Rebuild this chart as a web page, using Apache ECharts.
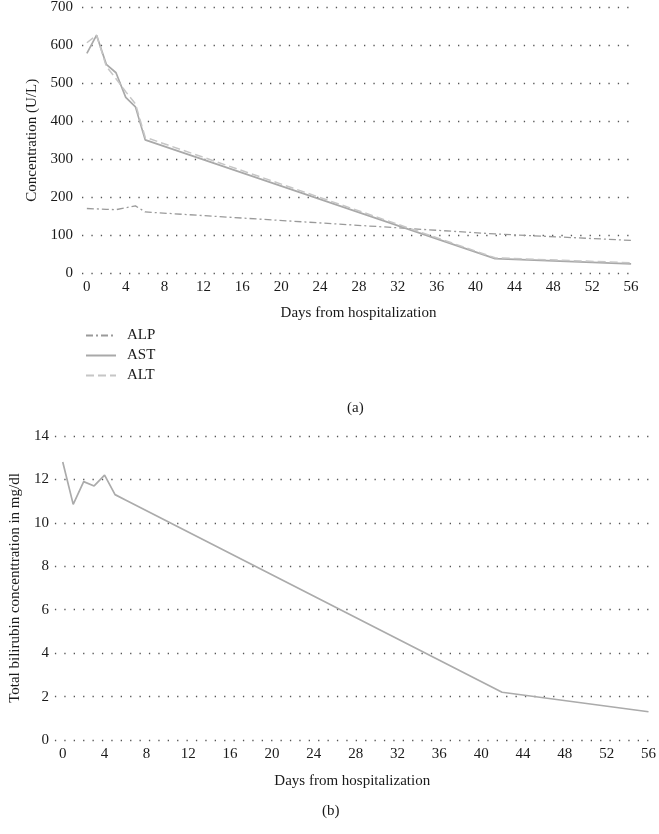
<!DOCTYPE html>
<html>
<head>
<meta charset="utf-8">
<script src="https://cdn.jsdelivr.net/npm/echarts@6/dist/echarts.min.js"></script>
<style>
html,body{margin:0;padding:0;background:#fff;}
#c{width:659px;height:834px;}
</style>
</head>
<body>
<div id="c"></div>
<script>
// Panel (a): liver enzymes
const daysA = [0, 1, 2, 3, 4, 5, 6, 42, 56];
const alp = [170, 169, 168, 167, 172, 177, 161, 103, 86];
const ast = [579, 627, 550, 528, 463, 438, 351, 38, 24];
const alt = [607, 627, 545, 512, 478, 446, 358, 40, 27];
// Panel (b): total bilirubin
const daysB = [0, 1, 2, 3, 4, 5, 6, 42, 56];
const bili = [12.8, 10.85, 11.9, 11.7, 12.2, 11.3, 11.05, 2.2, 1.3];
// tick labels
const xTicks = [0, 4, 8, 12, 16, 20, 24, 28, 32, 36, 40, 44, 48, 52, 56];
const yTicksA = [0, 100, 200, 300, 400, 500, 600, 700];
const yTicksB = [0, 2, 4, 6, 8, 10, 12, 14];

const FONT = 'Liberation Serif';
const TXT = '#1a1a1a';
const grid = {color: '#555', width: 1.3, type: [1.3, 8.1]};

function pairs(xs, ys) { return xs.map((x, i) => [x, ys[i]]); }

function xAxisDef(gridIndex, min, max, gap) {
  return {
    type: 'value', gridIndex, min, max,
    name: 'Days from hospitalization', nameLocation: 'middle', nameGap: gap,
    nameTextStyle: {fontFamily: FONT, fontSize: 15, color: TXT},
    axisLine: {show: false}, axisTick: {show: false},
    splitLine: {show: false},
    axisLabel: {customValues: xTicks, fontFamily: FONT, fontSize: 15, color: TXT, margin: 7}
  };
}

const chart = echarts.init(document.getElementById('c'), null, {renderer: 'canvas'});
chart.setOption({
  animation: false,
  backgroundColor: '#fff',
  grid: [
    {left: 82, right: 24, top: 6, height: 267, containLabel: false},
    {left: 47, right: 6, top: 436, height: 304, containLabel: false}
  ],
  xAxis: [
    xAxisDef(0, -0.5, 56.4, 33),
    xAxisDef(1, -0.75, 56.1, 34)
  ],
  yAxis: [
    {type: 'value', gridIndex: 0, min: 0, max: 700, interval: 100,
     name: 'Concentration (U/L)', nameLocation: 'middle', nameGap: 42,
     nameTextStyle: {fontFamily: FONT, fontSize: 15, color: TXT},
     axisLine: {show: false}, axisTick: {show: false},
     axisLabel: {customValues: yTicksA, fontFamily: FONT, fontSize: 15, color: TXT, margin: 9},
     splitLine: {show: true, lineStyle: grid}},
    {type: 'value', gridIndex: 1, min: 0, max: 14, interval: 2,
     name: 'Total bilirubin concenttration in mg/dl', nameLocation: 'middle', nameGap: 28,
     nameTextStyle: {fontFamily: FONT, fontSize: 15, color: TXT},
     axisLine: {show: false}, axisTick: {show: false},
     axisLabel: {customValues: yTicksB, fontFamily: FONT, fontSize: 15, color: TXT, margin: 6},
     splitLine: {show: true, lineStyle: grid}}
  ],
  legend: {
    orient: 'vertical', left: 80, top: 323,
    itemWidth: 30, itemHeight: 14, itemGap: 5,
    data: ['ALP', 'AST', 'ALT'],
    itemStyle: {opacity: 0},
    textStyle: {fontFamily: FONT, fontSize: 15, color: TXT, padding: [0, 0, 0, 6]}
  },
  graphic: [
    {type: 'text', left: 347, top: 401, style: {text: '(a)', font: '15px "Liberation Serif"', fill: TXT}},
    {type: 'text', left: 322, top: 804, style: {text: '(b)', font: '15px "Liberation Serif"', fill: TXT}}
  ],
  series: [
    {name: 'ALP', type: 'line', xAxisIndex: 0, yAxisIndex: 0, data: pairs(daysA, alp),
     symbol: 'none', lineStyle: {color: '#9a9a9a', width: 1.3, type: [7, 3, 2, 3]}, itemStyle: {color: '#9a9a9a'}},
    {name: 'AST', type: 'line', xAxisIndex: 0, yAxisIndex: 0, data: pairs(daysA, ast),
     symbol: 'none', lineStyle: {color: '#a9a9a9', width: 1.7, type: 'solid'}, itemStyle: {color: '#a9a9a9'}},
    {name: 'ALT', type: 'line', xAxisIndex: 0, yAxisIndex: 0, data: pairs(daysA, alt),
     symbol: 'none', lineStyle: {color: '#c6c6c6', width: 1.5, type: [8, 4]}, itemStyle: {color: '#c6c6c6'}},
    {name: 'Bilirubin', type: 'line', xAxisIndex: 1, yAxisIndex: 1, data: pairs(daysB, bili),
     symbol: 'none', lineStyle: {color: '#ababab', width: 1.7}, itemStyle: {color: '#ababab'}}
  ]
});
</script>
</body>
</html>
